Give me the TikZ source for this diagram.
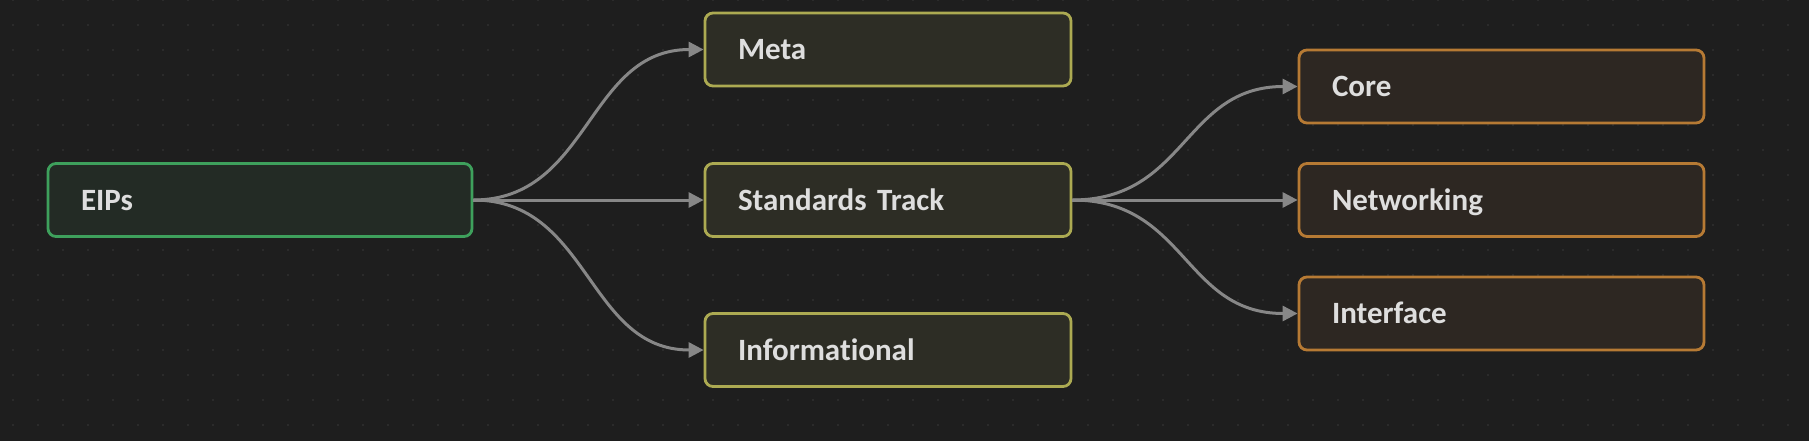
\documentclass[tikz,border=0pt]{standalone}
\usepackage{fontspec}
\setmainfont{Carlito}[Ligatures={NoCommon,NoRare}]
\usetikzlibrary{arrows.meta}
\definecolor{bg}{RGB}{30,30,30}
\definecolor{griddot}{RGB}{48,48,48}
\definecolor{txt}{RGB}{222,222,222}
\definecolor{edgec}{RGB}{135,135,135}
\definecolor{gfill}{RGB}{35,43,37}
\definecolor{gline}{RGB}{62,160,92}
\definecolor{yfill}{RGB}{45,45,37}
\definecolor{yline}{RGB}{172,170,82}
\definecolor{ofill}{RGB}{45,39,34}
\definecolor{oline}{RGB}{182,122,52}
\tikzset{
  box/.style={draw, line width=2.8pt, rounded corners=8pt, minimum height=73pt,
    inner xsep=33pt, inner ysep=0pt, align=left, text=txt,
    font=\fontsize{31}{36}\selectfont\bfseries, anchor=center,
    text height=22pt, text depth=2pt},
  rootbox/.style={box, fill=gfill, draw=gline, text width=358pt},
  midbox/.style={box, fill=yfill, draw=yline, text width=300pt},
  leafbox/.style={box, fill=ofill, draw=oline, text width=339pt},
  edge/.style={draw=edgec, line width=3pt, -{Triangle[length=15pt,width=15pt]}}
}
\begin{document}
\begin{tikzpicture}[x=1pt,y=-1pt]
\fill[bg] (0,0) rectangle (1809,441);
\useasboundingbox (0,0) rectangle (1809,441);
\foreach \i in {0,...,71} {
  \foreach \j in {0,...,17} {
    \fill[griddot] (13+25*\i, 25*\j) circle (1.1pt);
  }
}
\node[rootbox] (eips) at (260,200) {EIPs};
\node[midbox] (meta) at (888,49.5) {Meta};
\node[midbox] (std) at (888,200) {Standards Track};
\node[midbox] (info) at (888,350) {Informational};
\node[leafbox] (core) at (1501.5,86.5) {Core};
\node[leafbox] (net) at (1501.5,200) {Networking};
\node[leafbox] (iface) at (1501.5,313.5) {Interface};
\draw[edge] (eips.east) .. controls ([xshift=116.5pt]eips.east) and ([xshift=-116.5pt]meta.west) .. (meta.west);
\draw[edge] (eips.east) -- (std.west);
\draw[edge] (eips.east) .. controls ([xshift=116.5pt]eips.east) and ([xshift=-116.5pt]info.west) .. (info.west);
\draw[edge] (std.east) .. controls ([xshift=114pt]std.east) and ([xshift=-114pt]core.west) .. (core.west);
\draw[edge] (std.east) -- (net.west);
\draw[edge] (std.east) .. controls ([xshift=114pt]std.east) and ([xshift=-114pt]iface.west) .. (iface.west);
\end{tikzpicture}
\end{document}
